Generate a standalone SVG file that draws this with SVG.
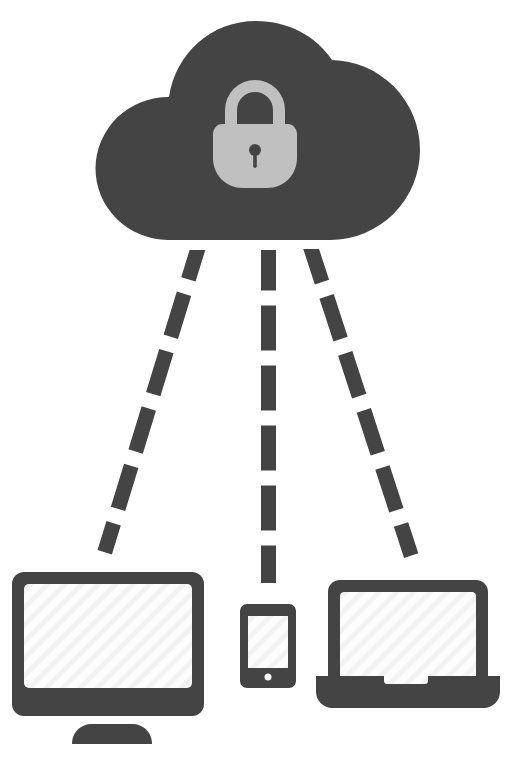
<svg xmlns="http://www.w3.org/2000/svg" width="512" height="760" viewBox="0 0 512 760">
<style>
.dark{fill:#444444}
.dash{fill:none;stroke:#444444;stroke-width:15;stroke-dasharray:45 15}
.lock{fill:#c0c0c0}
</style>
<defs>
<pattern id="hatch" patternUnits="userSpaceOnUse" width="12" height="12" patternTransform="rotate(45)">
<rect width="12" height="12" fill="#fdfdfd"/>
<rect x="0" width="6" height="12" fill="#f8f8f8"/>
<rect x="1" width="4" height="12" fill="#f2f2f2"/>
</pattern>
<clipPath id="clipLeft"><rect x="0" y="250" width="512" height="340"/></clipPath>
<clipPath id="clipRight"><rect x="0" y="249" width="512" height="340"/></clipPath>
</defs>
<rect width="512" height="760" fill="#ffffff"/>
<g id="connectors">
<path class="dash" clip-path="url(#clipLeft)" d="M201.600 236.400L104.700 552.300"/>
<path class="dash" clip-path="url(#clipLeft)" d="M268.500 245.500V583"/>
<path class="dash" clip-path="url(#clipRight)" d="M308 239.300L411.200 555.700"/>
</g>
<g id="cloud">
<path class="dark" d="M168 240A73 71.500 0 0 1 169 97C176 52 212 21 256 21C288 21 316 36 332 60L330 60A90 90 0 0 1 330 240Z"/>
<g id="lock">
<path class="lock" fill-rule="evenodd" d="M225 124V110A30 30 0 0 1 285 110V124H288C293 124 297 129 297 134V158C297 175 284 188 267 188H243C226 188 213 175 213 158V134C213 129 217 124 222 124ZM237 124H273V110A18 18 0 0 0 237 110Z"/>
<circle class="dark" cx="255" cy="150" r="6"/>
<rect class="dark" x="253.200" y="150" width="3.600" height="18" rx="1.800"/>
</g>
</g>
<g id="monitor">
<rect class="dark" x="12" y="572" width="192" height="144" rx="12"/>
<rect x="24" y="584" width="168" height="104" rx="5" fill="url(#hatch)"/>
<path class="dark" d="M72 744C72 732 81 724 92 724H132C143 724 152 732 152 744Z"/>
</g>
<g id="phone">
<rect class="dark" x="240" y="604" width="56" height="84" rx="7"/>
<rect x="248" y="616" width="40" height="52" fill="url(#hatch)"/>
<circle cx="268" cy="677" r="3.500" fill="#fdfdfd"/>
</g>
<g id="laptop">
<path class="dark" d="M328 676V592C328 585 333 580 340 580H476C483 580 488 585 488 592V676H500V692C500 701 492 708 484 708H332C324 708 316 701 316 692V676Z"/>
<path d="M340 676V596C340 593 342 592 344 592H472C474 592 476 593 476 596V676H428V680C428 683 427 684 425 684H387C385 684 384 683 384 680V676Z" fill="url(#hatch)"/>
</g>
</svg>
